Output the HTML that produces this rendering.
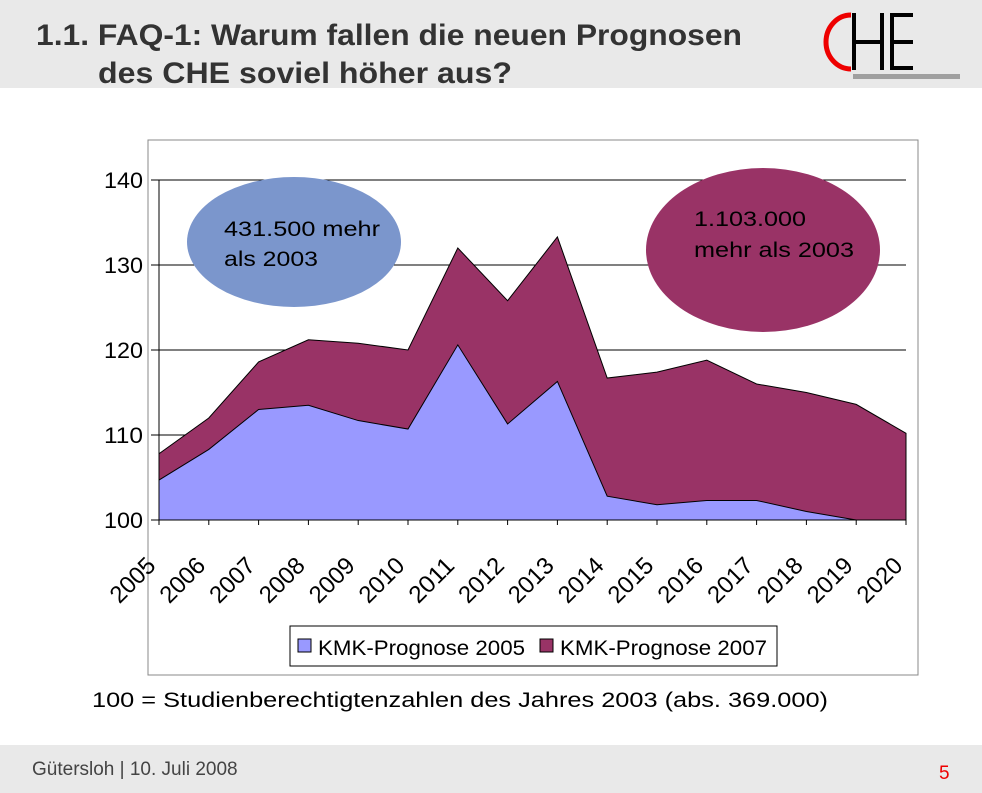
<!DOCTYPE html>
<html><head><meta charset="utf-8"><style>
body{margin:0;width:982px;height:793px;background:#fff;font-family:"Liberation Sans",Arial,sans-serif;position:relative;overflow:hidden}
.abs{position:absolute}
</style></head><body>
<div class="abs" style="left:0;top:0;width:982px;height:88px;background:#e9e9e9"></div>
<svg class="abs" style="left:0;top:0" width="800" height="90">
<text x="36" y="45" font-size="30" font-weight="bold" fill="#333" font-family="Liberation Sans,sans-serif" textLength="706" lengthAdjust="spacingAndGlyphs">1.1. FAQ-1: Warum fallen die neuen Prognosen</text>
<text x="98" y="83" font-size="30" font-weight="bold" fill="#333" font-family="Liberation Sans,sans-serif" textLength="414" lengthAdjust="spacingAndGlyphs">des CHE soviel höher aus?</text>
</svg>
<svg class="abs" style="left:0;top:0" width="982" height="90">
<path d="M851,15 A25,27 0 0 0 851,69" fill="none" stroke="#e00" stroke-width="5"/>
<rect x="852" y="13" width="4" height="57" fill="#000"/><rect x="880" y="13" width="4" height="57" fill="#000"/>
<rect x="854" y="40" width="28" height="4" fill="#000"/>
<rect x="890" y="13" width="4" height="57" fill="#000"/>
<rect x="890" y="13" width="23" height="4" fill="#000"/><rect x="890" y="40" width="23" height="4" fill="#000"/><rect x="890" y="66" width="23" height="4" fill="#000"/>
<rect x="853" y="74" width="107" height="5" fill="#a0a0a0"/>
</svg>
<svg class="abs" style="left:0;top:0" width="982" height="745" id="ch">
<rect x="148" y="140" width="770" height="535" fill="#fff" stroke="#888" stroke-width="1"/>
<text x="92" y="707" font-size="21" font-family="Liberation Sans,sans-serif" textLength="736" lengthAdjust="spacingAndGlyphs">100 = Studienberechtigtenzahlen des Jahres 2003 (abs. 369.000)</text>
</svg>
<div class="abs" style="left:0;top:745px;width:982px;height:48px;background:#e9e9e9"></div>
<div class="abs" style="left:32px;top:759px;font-size:19px;color:#444">Gütersloh | 10. Juli 2008</div>
<div class="abs" style="left:939px;top:763px;font-size:19px;color:#e00">5</div>
<script>
const years=["2005","2006","2007","2008","2009","2010","2011","2012","2013","2014","2015","2016","2017","2018","2019","2020"];
const kmk2005=[104.7,108.3,113,113.5,111.7,110.7,120.6,111.3,116.3,102.8,101.8,102.3,102.3,101,99.8,99.8];
const kmk2007=[107.8,112,118.6,121.2,120.8,120,132,125.8,133.3,116.7,117.4,118.8,116,115,113.6,110.2];
const yTicks=[100,110,120,130,140];
const svg=document.getElementById('ch');const NS='http://www.w3.org/2000/svg';
const X=i=>159+i*(906-159)/(years.length-1);
const Y=v=>520-(Math.max(v,100)-100)*(520-180)/40;
const F='Liberation Sans,sans-serif';
function mk(t,a){const e=document.createElementNS(NS,t);for(const k in a)e.setAttribute(k,a[k]);svg.appendChild(e);return e;}
yTicks.forEach(t=>{const l=mk('line',{x1:151,x2:906,y1:Y(t),y2:Y(t),stroke:'#000','stroke-width':1});

const tx=mk('text',{x:143,y:Y(t)+8,'text-anchor':'end','font-size':22,'font-family':F,textLength:39,lengthAdjust:'spacingAndGlyphs'});tx.textContent=t;
});
function area(vals,fill,name){let d='M'+X(0)+','+Y(100);vals.forEach((v,i)=>d+=' L'+X(i)+','+Y(v));d+=' L'+X(vals.length-1)+','+Y(100)+'Z';
const p=mk('path',{d:d,fill:fill,stroke:'#000','stroke-width':1});}
area(kmk2007,'#993366','area-kmk-2007');
area(kmk2005,'#9999ff','area-kmk-2005');
mk('line',{x1:159,x2:159,y1:180,y2:520,stroke:'#000'});
years.forEach((y,i)=>{mk('line',{x1:X(i),x2:X(i),y1:520,y2:525,stroke:'#000'});
const ax=X(i)-2, ay=567;
const t=mk('text',{x:ax,y:ay,'text-anchor':'end','font-size':24,'font-family':F,textLength:53,lengthAdjust:'spacingAndGlyphs',transform:`rotate(-45 ${ax} ${ay})`});t.textContent=y;
});
const lg=mk('rect',{x:290,y:626,width:487,height:40,fill:'#fff',stroke:'#000'});
[['#9999ff','KMK-Prognose 2005',298],['#993366','KMK-Prognose 2007',540]].forEach(([c,n,x])=>{
const r=mk('rect',{x:x,y:639,width:13,height:13,fill:c,stroke:'#000'});
const t=mk('text',{x:x+20,y:655,'font-size':21,'font-family':F,textLength:207,lengthAdjust:'spacingAndGlyphs'});t.textContent=n;});
const e1=mk('ellipse',{cx:294,cy:242,rx:107,ry:65,fill:'#7b96cc'});
const e2=mk('ellipse',{cx:763,cy:250,rx:117,ry:82,fill:'#993366'});
[[224,236,'431.500 mehr',156],[224,266,'als 2003',94],[694,226,'1.103.000',112],[694,257,'mehr als 2003',160]].forEach(([x,y,s,w])=>{
const t=mk('text',{x:x,y:y,'font-size':21,'font-family':F,textLength:w,lengthAdjust:'spacingAndGlyphs'});t.textContent=s;});
</script>
</body></html>
